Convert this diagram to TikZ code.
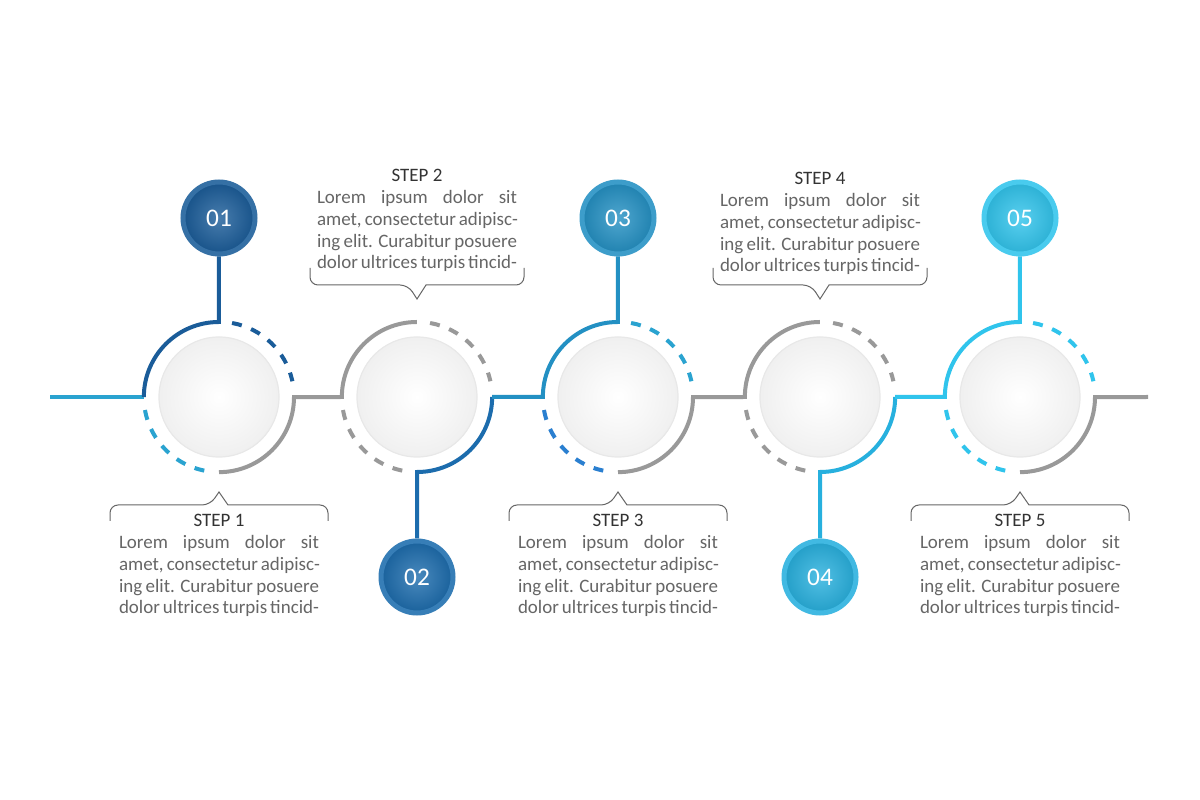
\documentclass[tikz,border=0pt]{standalone}
\usepackage{fontspec}
\setmainfont{Carlito}
\usepackage{tikz}
\usetikzlibrary{positioning}

\definecolor{bluea}{HTML}{1A5C99}
\definecolor{blueb}{HTML}{1C6CAD}
\definecolor{bluec}{HTML}{2390C3}
\definecolor{blued}{HTML}{27B0DE}
\definecolor{bluee}{HTML}{30C4EC}
\definecolor{lightline}{HTML}{2AA3D0}
\definecolor{midblue}{HTML}{2A7FD0}
\definecolor{lineg}{HTML}{999999}
\definecolor{textg}{HTML}{666666}

\newcommand{\sline}[1]{\makebox[100mm][s]{#1}}

\begin{document}
\begin{tikzpicture}[
  x=0.5mm, y=0.5mm,
  ring/.style={circle, minimum size=75mm, inner sep=0pt},
  disc/.style={circle, minimum size=60mm, inner sep=0pt,
    draw=gray!18, line width=0.6mm, inner color=white, outer color=gray!12},
  badge/.style={circle, minimum size=36mm, inner sep=0pt,
    draw=#1!88!white, line width=2.5mm, inner color=#1!80!white, outer color=#1!90!black,
    text=white, font=\fontsize{36}{36}\selectfont},
  track/.style={line width=2mm, draw=#1},
  dots/.style={line width=2mm, draw=#1, dash pattern=on 5mm off 5mm},
  brace/.style={draw=gray!80!black, line width=0.5mm, rounded corners=4mm},
  steptext/.style={align=left, text=textg, font=\fontsize{27}{31}\selectfont}
]
\useasboundingbox[fill=white] (0,0) rectangle (1200,799);

% rings and discs
\foreach \i/\x in {1/219,2/417,3/618,4/820,5/1020}{
  \node[ring] (c\i) at (\x,402) {};
  \node[disc] (d\i) at (\x,402) {};
}

% number badges
\node[badge=bluea] (b1) at (219,581) {01};
\node[badge=blueb] (b2) at (417,222) {02};
\node[badge=bluec] (b3) at (618,581) {03};
\node[badge=blued] (b4) at (820,222) {04};
\node[badge=bluee] (b5) at (1020,581) {05};
\coordinate (start) at (50,402);
\coordinate (stop) at (1148,402);

% solid tracks
\draw[track=lightline] (start) -- (c1.west);
\draw[track=bluea] (c1.west) arc[start angle=180, end angle=90, radius=75*0.5mm] -- (b1);
\draw[track=lineg] (c1.south) arc[start angle=-90, end angle=0, radius=75*0.5mm]
  -- (c2.west) arc[start angle=180, end angle=90, radius=75*0.5mm];
\draw[track=blueb] (c2.east) arc[start angle=0, end angle=-90, radius=75*0.5mm] -- (b2);
\draw[track=bluec] (c2.east) -- (c3.west) arc[start angle=180, end angle=90, radius=75*0.5mm] -- (b3);
\draw[track=lineg] (c3.south) arc[start angle=-90, end angle=0, radius=75*0.5mm]
  -- (c4.west) arc[start angle=180, end angle=90, radius=75*0.5mm];
\draw[track=blued] (c4.east) arc[start angle=0, end angle=-90, radius=75*0.5mm] -- (b4);
\draw[track=bluee] (c4.east) -- (c5.west) arc[start angle=180, end angle=90, radius=75*0.5mm] -- (b5);
\draw[track=lineg] (c5.south) arc[start angle=-90, end angle=0, radius=75*0.5mm] -- (stop);

% dashed arcs
\foreach \i/\ca/\cb in {1/bluea/lightline,2/lineg/lineg,3/lightline/midblue,4/lineg/lineg,5/bluee/bluee}{
  \draw[dots=\ca] (c\i.80) arc[start angle=80, end angle=12, radius=75*0.5mm];
  \draw[dots=\cb] (c\i.190) arc[start angle=190, end angle=262, radius=75*0.5mm];
}

% braces below
\foreach \i/\x in {1/219,3/618,5/1020}{
  \draw[brace] (\x-109,278) -- (\x-109,294) -- (\x-9,294) [sharp corners] -- (\x,307) -- (\x+9,294)
    [rounded corners=4mm] -- (\x+109,294) -- (\x+109,278);
}
% braces above
\foreach \i/\x in {2/417,4/820}{
  \draw[brace] (\x-107,531) -- (\x-107,514) -- (\x-9,514) [sharp corners] -- (\x,500) -- (\x+9,514)
    [rounded corners=4mm] -- (\x+107,514) -- (\x+107,531);
}

% step texts
\foreach \i/\x/\y in {1/219/287,2/417/632,3/618/287,4/820/629,5/1020/287}{
  \node[steptext, anchor=north] (t\i) at (\x,\y) {%
    \makebox[100mm][c]{\color{black!80}STEP \i}\\
    \sline{Lorem ipsum dolor sit}\\
    \sline{amet, consectetur adipisc-}\\
    \sline{ing elit. Curabitur posuere}\\
    \sline{dolor ultrices turpis tincid-}};
}
\end{tikzpicture}
\end{document}
